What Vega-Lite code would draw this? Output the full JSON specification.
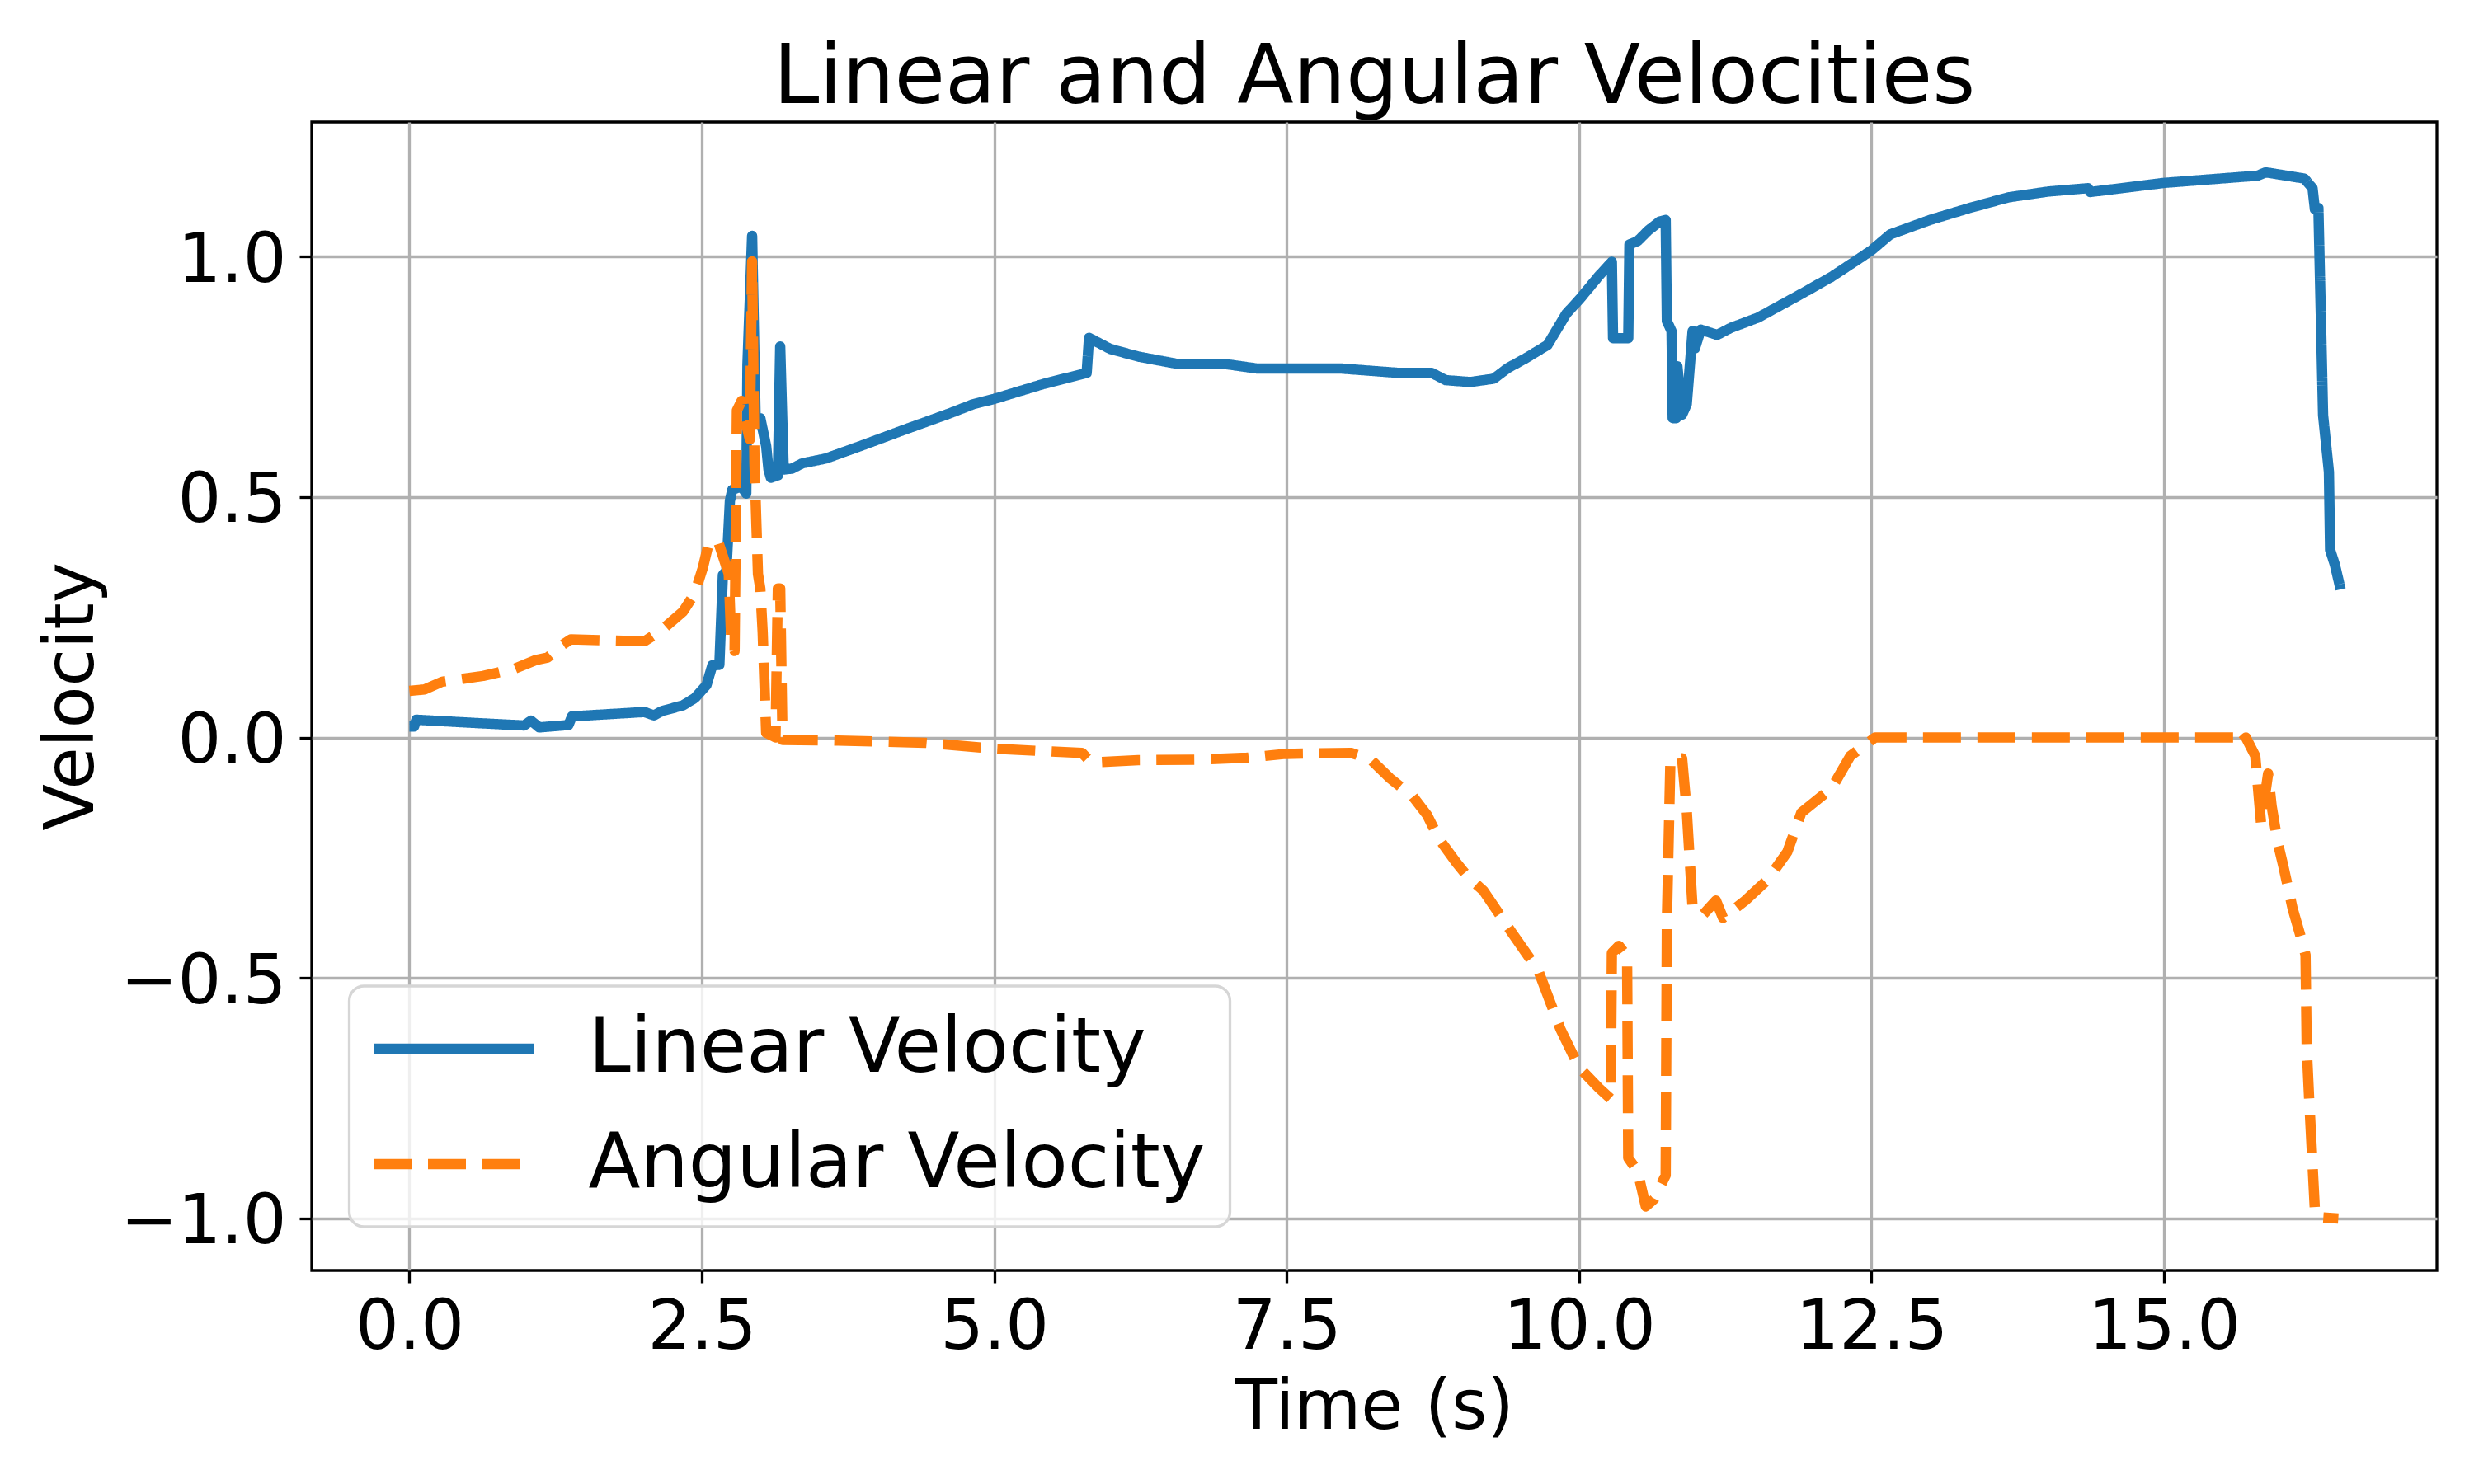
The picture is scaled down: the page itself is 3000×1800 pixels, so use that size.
{
  "$schema": "https://vega.github.io/schema/vega-lite/v6.json",
  "width": 2577,
  "height": 1393,
  "autosize": {"type": "none"},
  "padding": {"left": 378, "top": 148, "right": 45, "bottom": 259},
  "background": "white",
  "title": {"text": "Linear and Angular Velocities", "font": "DejaVu Sans", "fontSize": 100, "fontWeight": "normal", "color": "black", "anchor": "middle", "baseline": "alphabetic", "offset": 26, "dy": 103, "frame": "group"},
  "data": {"values": [
    {"t":0.00,"v":0.023,"s":"Linear Velocity"},
    {"t":0.04,"v":0.023,"s":"Linear Velocity"},
    {"t":0.06,"v":0.037,"s":"Linear Velocity"},
    {"t":0.28,"v":0.034,"s":"Linear Velocity"},
    {"t":0.58,"v":0.030,"s":"Linear Velocity"},
    {"t":0.98,"v":0.025,"s":"Linear Velocity"},
    {"t":1.04,"v":0.035,"s":"Linear Velocity"},
    {"t":1.11,"v":0.021,"s":"Linear Velocity"},
    {"t":1.36,"v":0.026,"s":"Linear Velocity"},
    {"t":1.39,"v":0.044,"s":"Linear Velocity"},
    {"t":2.01,"v":0.053,"s":"Linear Velocity"},
    {"t":2.09,"v":0.046,"s":"Linear Velocity"},
    {"t":2.16,"v":0.055,"s":"Linear Velocity"},
    {"t":2.34,"v":0.067,"s":"Linear Velocity"},
    {"t":2.44,"v":0.082,"s":"Linear Velocity"},
    {"t":2.54,"v":0.109,"s":"Linear Velocity"},
    {"t":2.59,"v":0.150,"s":"Linear Velocity"},
    {"t":2.65,"v":0.151,"s":"Linear Velocity"},
    {"t":2.68,"v":0.338,"s":"Linear Velocity"},
    {"t":2.71,"v":0.346,"s":"Linear Velocity"},
    {"t":2.74,"v":0.492,"s":"Linear Velocity"},
    {"t":2.76,"v":0.515,"s":"Linear Velocity"},
    {"t":2.84,"v":0.522,"s":"Linear Velocity"},
    {"t":2.88,"v":0.507,"s":"Linear Velocity"},
    {"t":2.89,"v":0.775,"s":"Linear Velocity"},
    {"t":2.93,"v":1.043,"s":"Linear Velocity"},
    {"t":2.96,"v":0.660,"s":"Linear Velocity"},
    {"t":3.00,"v":0.664,"s":"Linear Velocity"},
    {"t":3.05,"v":0.606,"s":"Linear Velocity"},
    {"t":3.07,"v":0.557,"s":"Linear Velocity"},
    {"t":3.09,"v":0.540,"s":"Linear Velocity"},
    {"t":3.15,"v":0.545,"s":"Linear Velocity"},
    {"t":3.17,"v":0.813,"s":"Linear Velocity"},
    {"t":3.20,"v":0.557,"s":"Linear Velocity"},
    {"t":3.27,"v":0.559,"s":"Linear Velocity"},
    {"t":3.36,"v":0.570,"s":"Linear Velocity"},
    {"t":3.56,"v":0.580,"s":"Linear Velocity"},
    {"t":3.89,"v":0.609,"s":"Linear Velocity"},
    {"t":4.21,"v":0.638,"s":"Linear Velocity"},
    {"t":4.62,"v":0.674,"s":"Linear Velocity"},
    {"t":4.82,"v":0.693,"s":"Linear Velocity"},
    {"t":5.00,"v":0.704,"s":"Linear Velocity"},
    {"t":5.42,"v":0.735,"s":"Linear Velocity"},
    {"t":5.79,"v":0.758,"s":"Linear Velocity"},
    {"t":5.81,"v":0.831,"s":"Linear Velocity"},
    {"t":5.99,"v":0.808,"s":"Linear Velocity"},
    {"t":6.23,"v":0.792,"s":"Linear Velocity"},
    {"t":6.56,"v":0.777,"s":"Linear Velocity"},
    {"t":6.96,"v":0.777,"s":"Linear Velocity"},
    {"t":7.25,"v":0.767,"s":"Linear Velocity"},
    {"t":7.97,"v":0.767,"s":"Linear Velocity"},
    {"t":8.46,"v":0.758,"s":"Linear Velocity"},
    {"t":8.74,"v":0.758,"s":"Linear Velocity"},
    {"t":8.86,"v":0.743,"s":"Linear Velocity"},
    {"t":9.07,"v":0.739,"s":"Linear Velocity"},
    {"t":9.27,"v":0.746,"s":"Linear Velocity"},
    {"t":9.39,"v":0.768,"s":"Linear Velocity"},
    {"t":9.54,"v":0.788,"s":"Linear Velocity"},
    {"t":9.73,"v":0.816,"s":"Linear Velocity"},
    {"t":9.89,"v":0.881,"s":"Linear Velocity"},
    {"t":10.01,"v":0.913,"s":"Linear Velocity"},
    {"t":10.17,"v":0.960,"s":"Linear Velocity"},
    {"t":10.28,"v":0.989,"s":"Linear Velocity"},
    {"t":10.29,"v":0.830,"s":"Linear Velocity"},
    {"t":10.42,"v":0.830,"s":"Linear Velocity"},
    {"t":10.43,"v":1.025,"s":"Linear Velocity"},
    {"t":10.50,"v":1.032,"s":"Linear Velocity"},
    {"t":10.59,"v":1.054,"s":"Linear Velocity"},
    {"t":10.69,"v":1.073,"s":"Linear Velocity"},
    {"t":10.74,"v":1.076,"s":"Linear Velocity"},
    {"t":10.75,"v":0.866,"s":"Linear Velocity"},
    {"t":10.79,"v":0.845,"s":"Linear Velocity"},
    {"t":10.80,"v":0.664,"s":"Linear Velocity"},
    {"t":10.83,"v":0.664,"s":"Linear Velocity"},
    {"t":10.84,"v":0.772,"s":"Linear Velocity"},
    {"t":10.88,"v":0.671,"s":"Linear Velocity"},
    {"t":10.92,"v":0.693,"s":"Linear Velocity"},
    {"t":10.97,"v":0.845,"s":"Linear Velocity"},
    {"t":10.99,"v":0.809,"s":"Linear Velocity"},
    {"t":11.04,"v":0.848,"s":"Linear Velocity"},
    {"t":11.18,"v":0.837,"s":"Linear Velocity"},
    {"t":11.30,"v":0.852,"s":"Linear Velocity"},
    {"t":11.53,"v":0.873,"s":"Linear Velocity"},
    {"t":11.77,"v":0.905,"s":"Linear Velocity"},
    {"t":11.92,"v":0.925,"s":"Linear Velocity"},
    {"t":12.16,"v":0.958,"s":"Linear Velocity"},
    {"t":12.39,"v":0.995,"s":"Linear Velocity"},
    {"t":12.50,"v":1.013,"s":"Linear Velocity"},
    {"t":12.66,"v":1.046,"s":"Linear Velocity"},
    {"t":13.00,"v":1.076,"s":"Linear Velocity"},
    {"t":13.34,"v":1.101,"s":"Linear Velocity"},
    {"t":13.67,"v":1.123,"s":"Linear Velocity"},
    {"t":14.01,"v":1.135,"s":"Linear Velocity"},
    {"t":14.35,"v":1.142,"s":"Linear Velocity"},
    {"t":14.37,"v":1.134,"s":"Linear Velocity"},
    {"t":15.00,"v":1.153,"s":"Linear Velocity"},
    {"t":15.80,"v":1.168,"s":"Linear Velocity"},
    {"t":15.87,"v":1.175,"s":"Linear Velocity"},
    {"t":16.20,"v":1.162,"s":"Linear Velocity"},
    {"t":16.27,"v":1.142,"s":"Linear Velocity"},
    {"t":16.29,"v":1.098,"s":"Linear Velocity"},
    {"t":16.32,"v":1.101,"s":"Linear Velocity"},
    {"t":16.36,"v":0.670,"s":"Linear Velocity"},
    {"t":16.41,"v":0.552,"s":"Linear Velocity"},
    {"t":16.42,"v":0.390,"s":"Linear Velocity"},
    {"t":16.46,"v":0.360,"s":"Linear Velocity"},
    {"t":16.51,"v":0.308,"s":"Linear Velocity"},
    {"t":0.00,"v":0.097,"s":"Angular Velocity"},
    {"t":0.13,"v":0.100,"s":"Angular Velocity"},
    {"t":0.28,"v":0.116,"s":"Angular Velocity"},
    {"t":0.63,"v":0.128,"s":"Angular Velocity"},
    {"t":0.90,"v":0.143,"s":"Angular Velocity"},
    {"t":1.08,"v":0.161,"s":"Angular Velocity"},
    {"t":1.18,"v":0.166,"s":"Angular Velocity"},
    {"t":1.31,"v":0.193,"s":"Angular Velocity"},
    {"t":1.38,"v":0.204,"s":"Angular Velocity"},
    {"t":2.01,"v":0.200,"s":"Angular Velocity"},
    {"t":2.16,"v":0.224,"s":"Angular Velocity"},
    {"t":2.34,"v":0.262,"s":"Angular Velocity"},
    {"t":2.44,"v":0.300,"s":"Angular Velocity"},
    {"t":2.51,"v":0.354,"s":"Angular Velocity"},
    {"t":2.56,"v":0.405,"s":"Angular Velocity"},
    {"t":2.64,"v":0.407,"s":"Angular Velocity"},
    {"t":2.69,"v":0.370,"s":"Angular Velocity"},
    {"t":2.73,"v":0.340,"s":"Angular Velocity"},
    {"t":2.75,"v":0.210,"s":"Angular Velocity"},
    {"t":2.78,"v":0.180,"s":"Angular Velocity"},
    {"t":2.80,"v":0.680,"s":"Angular Velocity"},
    {"t":2.84,"v":0.700,"s":"Angular Velocity"},
    {"t":2.87,"v":0.660,"s":"Angular Velocity"},
    {"t":2.91,"v":0.620,"s":"Angular Velocity"},
    {"t":2.93,"v":0.990,"s":"Angular Velocity"},
    {"t":2.95,"v":0.570,"s":"Angular Velocity"},
    {"t":2.98,"v":0.340,"s":"Angular Velocity"},
    {"t":3.00,"v":0.310,"s":"Angular Velocity"},
    {"t":3.02,"v":0.220,"s":"Angular Velocity"},
    {"t":3.05,"v":0.010,"s":"Angular Velocity"},
    {"t":3.13,"v":0.000,"s":"Angular Velocity"},
    {"t":3.15,"v":0.310,"s":"Angular Velocity"},
    {"t":3.17,"v":0.310,"s":"Angular Velocity"},
    {"t":3.19,"v":-0.005,"s":"Angular Velocity"},
    {"t":3.60,"v":-0.006,"s":"Angular Velocity"},
    {"t":4.41,"v":-0.011,"s":"Angular Velocity"},
    {"t":4.98,"v":-0.023,"s":"Angular Velocity"},
    {"t":5.47,"v":-0.029,"s":"Angular Velocity"},
    {"t":5.75,"v":-0.032,"s":"Angular Velocity"},
    {"t":5.83,"v":-0.052,"s":"Angular Velocity"},
    {"t":6.23,"v":-0.047,"s":"Angular Velocity"},
    {"t":6.72,"v":-0.046,"s":"Angular Velocity"},
    {"t":7.16,"v":-0.042,"s":"Angular Velocity"},
    {"t":7.49,"v":-0.034,"s":"Angular Velocity"},
    {"t":8.05,"v":-0.032,"s":"Angular Velocity"},
    {"t":8.22,"v":-0.046,"s":"Angular Velocity"},
    {"t":8.38,"v":-0.084,"s":"Angular Velocity"},
    {"t":8.58,"v":-0.123,"s":"Angular Velocity"},
    {"t":8.70,"v":-0.161,"s":"Angular Velocity"},
    {"t":8.80,"v":-0.210,"s":"Angular Velocity"},
    {"t":8.95,"v":-0.260,"s":"Angular Velocity"},
    {"t":9.05,"v":-0.290,"s":"Angular Velocity"},
    {"t":9.18,"v":-0.318,"s":"Angular Velocity"},
    {"t":9.42,"v":-0.404,"s":"Angular Velocity"},
    {"t":9.65,"v":-0.484,"s":"Angular Velocity"},
    {"t":9.84,"v":-0.606,"s":"Angular Velocity"},
    {"t":10.00,"v":-0.686,"s":"Angular Velocity"},
    {"t":10.17,"v":-0.729,"s":"Angular Velocity"},
    {"t":10.27,"v":-0.751,"s":"Angular Velocity"},
    {"t":10.28,"v":-0.448,"s":"Angular Velocity"},
    {"t":10.34,"v":-0.433,"s":"Angular Velocity"},
    {"t":10.41,"v":-0.455,"s":"Angular Velocity"},
    {"t":10.42,"v":-0.874,"s":"Angular Velocity"},
    {"t":10.50,"v":-0.902,"s":"Angular Velocity"},
    {"t":10.57,"v":-0.975,"s":"Angular Velocity"},
    {"t":10.64,"v":-0.960,"s":"Angular Velocity"},
    {"t":10.74,"v":-0.910,"s":"Angular Velocity"},
    {"t":10.75,"v":-0.383,"s":"Angular Velocity"},
    {"t":10.78,"v":-0.050,"s":"Angular Velocity"},
    {"t":10.88,"v":-0.043,"s":"Angular Velocity"},
    {"t":10.92,"v":-0.152,"s":"Angular Velocity"},
    {"t":10.97,"v":-0.354,"s":"Angular Velocity"},
    {"t":11.06,"v":-0.368,"s":"Angular Velocity"},
    {"t":11.17,"v":-0.339,"s":"Angular Velocity"},
    {"t":11.23,"v":-0.375,"s":"Angular Velocity"},
    {"t":11.42,"v":-0.339,"s":"Angular Velocity"},
    {"t":11.61,"v":-0.296,"s":"Angular Velocity"},
    {"t":11.78,"v":-0.238,"s":"Angular Velocity"},
    {"t":11.90,"v":-0.156,"s":"Angular Velocity"},
    {"t":12.16,"v":-0.105,"s":"Angular Velocity"},
    {"t":12.32,"v":-0.038,"s":"Angular Velocity"},
    {"t":12.53,"v":0.000,"s":"Angular Velocity"},
    {"t":15.61,"v":0.000,"s":"Angular Velocity"},
    {"t":15.63,"v":-0.016,"s":"Angular Velocity"},
    {"t":15.70,"v":0.000,"s":"Angular Velocity"},
    {"t":15.78,"v":-0.038,"s":"Angular Velocity"},
    {"t":15.83,"v":-0.179,"s":"Angular Velocity"},
    {"t":15.89,"v":-0.075,"s":"Angular Velocity"},
    {"t":15.92,"v":-0.142,"s":"Angular Velocity"},
    {"t":15.97,"v":-0.216,"s":"Angular Velocity"},
    {"t":16.02,"v":-0.267,"s":"Angular Velocity"},
    {"t":16.10,"v":-0.356,"s":"Angular Velocity"},
    {"t":16.17,"v":-0.415,"s":"Angular Velocity"},
    {"t":16.21,"v":-0.452,"s":"Angular Velocity"},
    {"t":16.22,"v":-0.644,"s":"Angular Velocity"},
    {"t":16.24,"v":-0.747,"s":"Angular Velocity"},
    {"t":16.29,"v":-0.983,"s":"Angular Velocity"},
    {"t":16.31,"v":-0.997,"s":"Angular Velocity"},
    {"t":16.49,"v":-1.000,"s":"Angular Velocity"}
  ]},
  "mark": {"type": "line", "strokeWidth": 12.5, "strokeJoin": "round", "strokeCap": "butt", "clip": true},
  "encoding": {
    "x": {"field": "t", "type": "quantitative",
      "scale": {"domain": [-0.835, 17.333], "nice": false, "zero": false},
      "axis": {"title": "Time (s)", "values": [0, 2.5, 5, 7.5, 10, 12.5, 15], "format": ".1f", "labelPadding": 13, "titlePadding": 14}},
    "y": {"field": "v", "type": "quantitative",
      "scale": {"domain": [-1.108, 1.2796], "nice": false, "zero": false},
      "axis": {"title": "Velocity", "values": [-1, -0.5, 0, 0.5, 1], "format": ".1f", "labelPadding": 16, "labelBaseline": "alphabetic", "labelOffset": 30, "titlePadding": 49}},
    "color": {"field": "s", "type": "nominal",
      "scale": {"domain": ["Linear Velocity", "Angular Velocity"], "range": ["#1f77b4", "#ff7f0e"]},
      "legend": {"title": null}},
    "strokeDash": {"field": "s", "type": "nominal",
      "scale": {"domain": ["Linear Velocity", "Angular Velocity"], "range": [[1, 0], [46, 20]]},
      "legend": {"title": null}}
  },
  "config": {
    "font": "DejaVu Sans",
    "view": {"stroke": "black", "strokeWidth": 3.3},
    "axis": {
      "domain": false,
      "grid": true, "gridColor": "#b0b0b0", "gridWidth": 3.3, "gridOpacity": 1,
      "ticks": true, "tickSize": 15, "tickWidth": 3.3, "tickColor": "black",
      "labelFont": "DejaVu Sans", "labelFontSize": 83, "labelColor": "black", "labelLimit": 0,
      "labelFlush": false, "labelOverlap": false, "labelBound": false,
      "titleFont": "DejaVu Sans", "titleFontSize": 83, "titleFontWeight": "normal", "titleColor": "black"
    },
    "legend": {
      "orient": "none", "legendX": 45.5, "legendY": 1048,
      "padding": 30, "rowPadding": 48,
      "fillColor": "rgba(255,255,255,0.8)", "strokeColor": "#d6d6d6", "strokeWidth": 3.3, "cornerRadius": 18,
      "labelFont": "DejaVu Sans", "labelFontSize": 92, "labelColor": "black", "labelBaseline": "middle", "labelLimit": 0,
      "symbolType": "M-1,0H9", "symbolSize": 1521, "symbolStrokeWidth": 12.5, "labelOffset": 195, "symbolOffset": -27
    }
  }
}
